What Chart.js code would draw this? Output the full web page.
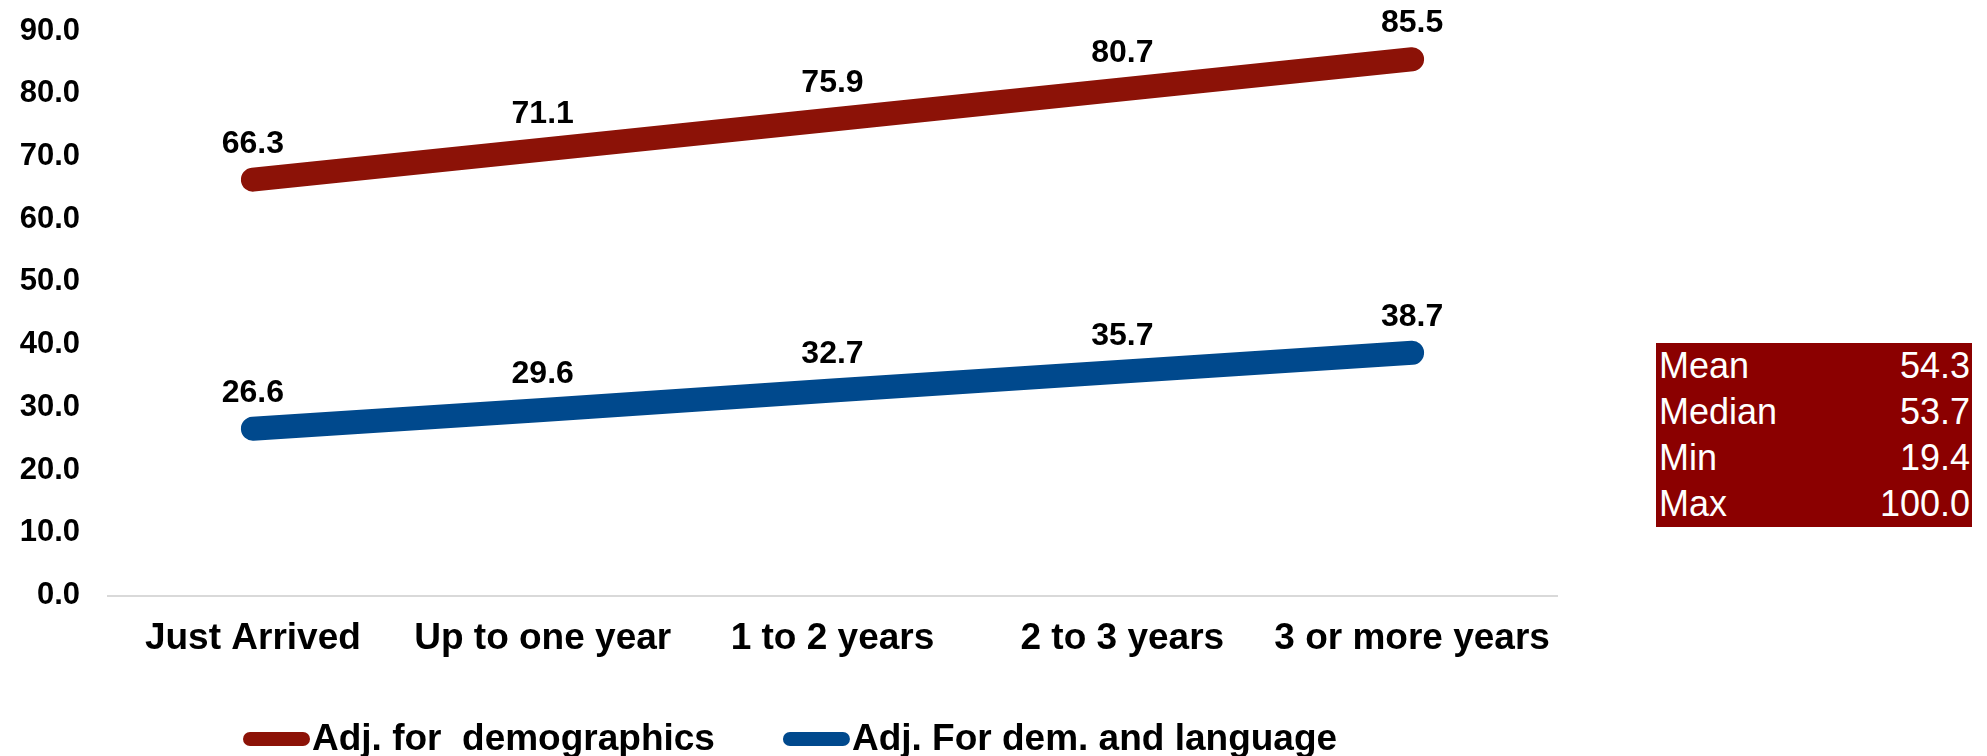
<!DOCTYPE html>
<html>
<head>
<meta charset="utf-8">
<script src="https://cdn.jsdelivr.net/npm/chart.js@4"></script>
<style>
  html, body { margin: 0; padding: 0; background: #fff; }
  #wrap { position: relative; width: 1987px; height: 756px; }
  #chart { position: absolute; left: 0; top: 0; }
  #stats {
    position: absolute; left: 1656px; top: 343px; width: 316px;
    background: #8B0000; border-collapse: collapse;
    font-family: "Liberation Sans", Arial, sans-serif; font-size: 36px; color: #fff;
  }
  #stats td { height: 46px; padding: 0 2px 0 3px; line-height: 46px; }
  #stats td.v { text-align: right; }
</style>
</head>
<body>
<div id="wrap">
  <canvas id="chart" width="1987" height="756"></canvas>
  <table id="stats"></table>
</div>
<script>
const categories = ['Just Arrived', 'Up to one year', '1 to 2 years', '2 to 3 years', '3 or more years'];
const demographics = [66.3, 71.1, 75.9, 80.7, 85.5];
const demAndLanguage = [26.6, 29.6, 32.7, 35.7, 38.7];
const seriesNames = ['Adj. for  demographics', 'Adj. For dem. and language'];
const yTicks = [0, 10, 20, 30, 40, 50, 60, 70, 80, 90];
const statNames = ['Mean', 'Median', 'Min', 'Max'];
const statValues = [54.3, 53.7, 19.4, 100.0];

const FONT = '"Liberation Sans", Arial, sans-serif';
const RED = '#8C1207';
const BLUE = '#00498D';

// Summary table beside the chart
const stats = document.getElementById('stats');
statNames.forEach((name, i) => {
  const tr = document.createElement('tr');
  const a = document.createElement('td'); a.textContent = name;
  const b = document.createElement('td'); b.className = 'v'; b.textContent = statValues[i].toFixed(1);
  tr.appendChild(a); tr.appendChild(b); stats.appendChild(tr);
});

// Value labels above each point
const valueLabels = {
  id: 'valueLabels',
  afterDatasetsDraw(chart) {
    const ctx = chart.ctx;
    ctx.save();
    ctx.font = 'bold 32px ' + FONT;
    ctx.fillStyle = '#000';
    ctx.textAlign = 'center';
    ctx.textBaseline = 'alphabetic';
    chart.data.datasets.forEach((ds, di) => {
      chart.getDatasetMeta(di).data.forEach((pt, i) => {
        ctx.fillText(ds.data[i].toFixed(1), pt.x, pt.y - 27);
      });
    });
    ctx.restore();
  }
};

// Legend row below the axis: rounded swatch followed directly by the name
const bottomLegend = {
  id: 'bottomLegend',
  afterDraw(chart) {
    const ctx = chart.ctx;
    ctx.save();
    ctx.font = 'bold 37px ' + FONT;
    ctx.textBaseline = 'alphabetic';
    let x = 243;
    const baseY = 750;
    chart.data.datasets.forEach((ds) => {
      const w = 67, h = 14, top = 732;
      ctx.fillStyle = ds.borderColor;
      ctx.beginPath();
      ctx.roundRect(x, top, w, h, h / 2);
      ctx.fill();
      x += w + 2;
      ctx.fillStyle = '#000';
      ctx.fillText(ds.label, x, baseY);
      x += ctx.measureText(ds.label).width + 68;
    });
    ctx.restore();
  }
};

new Chart(document.getElementById('chart'), {
  type: 'line',
  data: {
    labels: categories,
    datasets: [
      { label: seriesNames[0], data: demographics, borderColor: RED, backgroundColor: RED },
      { label: seriesNames[1], data: demAndLanguage, borderColor: BLUE, backgroundColor: BLUE }
    ]
  },
  options: {
    responsive: false,
    animation: false,
    events: [],
    layout: { padding: { top: 31, right: 430, bottom: 74, left: 0 } },
    elements: {
      line: { borderWidth: 24, borderCapStyle: 'round', borderJoinStyle: 'round', tension: 0 },
      point: { radius: 0, hoverRadius: 0 }
    },
    plugins: { legend: { display: false }, tooltip: { enabled: false } },
    scales: {
      x: {
        offset: true,
        grid: { display: false, drawTicks: false, tickLength: 0 },
        border: { display: true, color: '#d9d9d9', width: 2 },
        ticks: { color: '#000', font: { family: FONT, size: 37, weight: 'bold' }, padding: 21, maxRotation: 0, autoSkip: false }
      },
      y: {
        min: 0, max: 90,
        afterFit(scale) { scale.width = 108; scale.paddingTop = 0; scale.paddingBottom = 0; },
        afterBuildTicks(scale) { scale.ticks = yTicks.map(v => ({ value: v })); },
        grid: { display: false, drawTicks: false, tickLength: 0 },
        border: { display: false },
        ticks: {
          color: '#000', padding: 28,
          font: { family: FONT, size: 31, weight: 'bold' },
          callback: (v) => Number(v).toFixed(1)
        }
      }
    }
  },
  plugins: [valueLabels, bottomLegend]
});
</script>
</body>
</html>
